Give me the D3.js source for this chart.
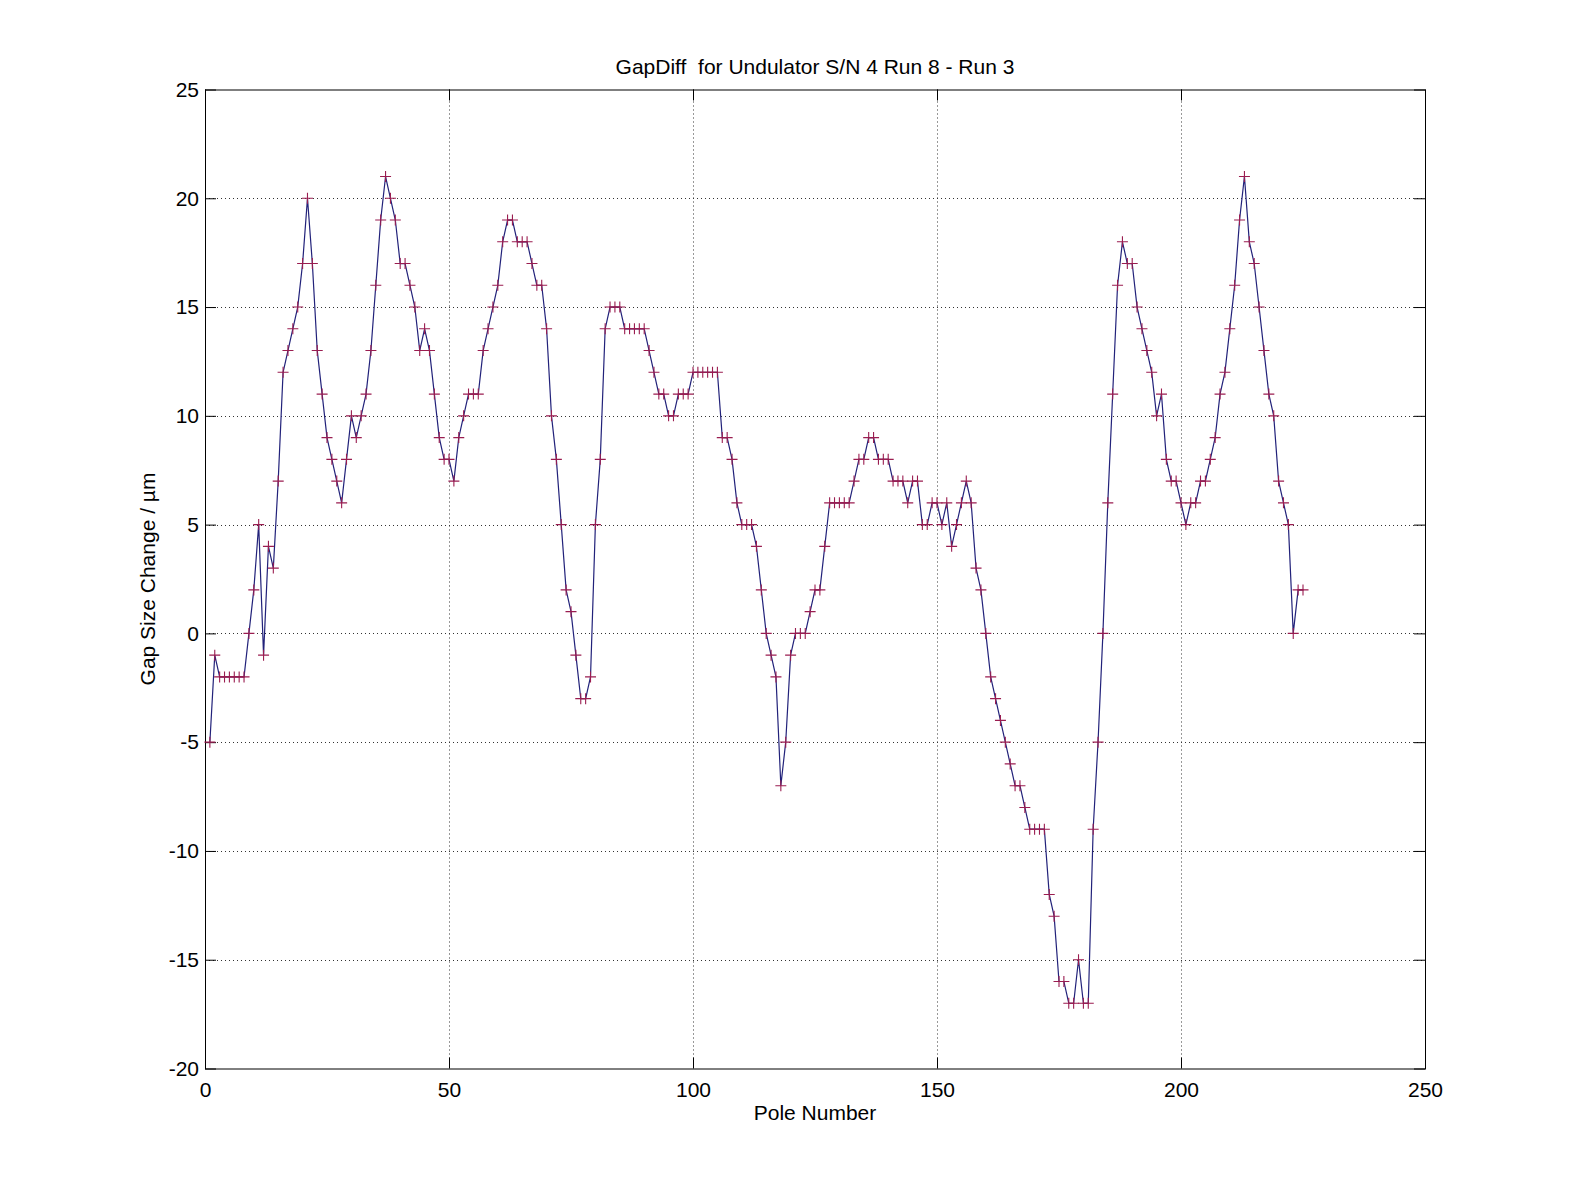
<!DOCTYPE html>
<html>
<head>
<meta charset="utf-8">
<script src="https://cdn.jsdelivr.net/npm/d3@7"></script>
<style>
  html, body { margin: 0; padding: 0; background: #fff; }
  svg { display: block; }
  text { font-family: "Liberation Sans", Arial, Helvetica, sans-serif; fill: #000; white-space: pre; }
</style>
</head>
<body>
<script>
// ---- Data ----
const title = "GapDiff  for Undulator S/N 4 Run 8 - Run 3";
const xLabel = "Pole Number";
const yLabel = "Gap Size Change / µm";
const xTicks = [0, 50, 100, 150, 200, 250];
const yTicks = [-20, -15, -10, -5, 0, 5, 10, 15, 20, 25];
const gapDiff = [
  -5, -1, -2, -2, -2, -2, -2, -2, 0, 2,
  5, -1, 4, 3, 7, 12, 13, 14, 15, 17,
  20, 17, 13, 11, 9, 8, 7, 6, 8, 10,
  9, 10, 11, 13, 16, 19, 21, 20, 19, 17,
  17, 16, 15, 13, 14, 13, 11, 9, 8, 8,
  7, 9, 10, 11, 11, 11, 13, 14, 15, 16,
  18, 19, 19, 18, 18, 18, 17, 16, 16, 14,
  10, 8, 5, 2, 1, -1, -3, -3, -2, 5,
  8, 14, 15, 15, 15, 14, 14, 14, 14, 14,
  13, 12, 11, 11, 10, 10, 11, 11, 11, 12,
  12, 12, 12, 12, 12, 9, 9, 8, 6, 5,
  5, 5, 4, 2, 0, -1, -2, -7, -5, -1,
  0, 0, 0, 1, 2, 2, 4, 6, 6, 6,
  6, 6, 7, 8, 8, 9, 9, 8, 8, 8,
  7, 7, 7, 6, 7, 7, 5, 5, 6, 6,
  5, 6, 4, 5, 6, 7, 6, 3, 2, 0,
  -2, -3, -4, -5, -6, -7, -7, -8, -9, -9,
  -9, -9, -12, -13, -16, -16, -17, -17, -15, -17,
  -17, -9, -5, 0, 6, 11, 16, 18, 17, 17,
  15, 14, 13, 12, 10, 11, 8, 7, 7, 6,
  5, 6, 6, 7, 7, 8, 9, 11, 12, 14,
  16, 19, 21, 18, 17, 15, 13, 11, 10, 7,
  6, 5, 0, 2, 2
];
const poles = gapDiff.map((d, i) => i + 1);

// ---- Layout ----
const W = 1575, H = 1200;
const L = 205, R = 1425, T = 89.5, B = 1068.5;
const tickLen = 11;

const svg = d3.select("body").append("svg").attr("width", W).attr("height", H);

const x = d3.scaleLinear().domain([0, 250]).range([L, R]);
const y = d3.scaleLinear().domain([-20, 25]).range([B, T]);

// Grid (dotted)
const grid = svg.append("g").attr("stroke", "#333").attr("stroke-width", 1)
  .attr("stroke-dasharray", "1,3");
xTicks.slice(1, -1).forEach(t => {
  grid.append("line").attr("x1", Math.round(x(t)) + 0.5).attr("x2", Math.round(x(t)) + 0.5)
    .attr("y1", T).attr("y2", B);
});
yTicks.slice(1, -1).forEach(t => {
  grid.append("line").attr("y1", Math.round(y(t)) + 0.5).attr("y2", Math.round(y(t)) + 0.5)
    .attr("x1", L).attr("x2", R);
});

// Axes via d3 axes (ticks inward), hyphen minus like the reference
const fmt = d => String(d);
const fs = 21;
const xAxisB = d3.axisBottom(x).tickValues(xTicks).tickFormat(fmt).tickSizeInner(-tickLen).tickSizeOuter(0).tickPadding(tickLen + 3);
const xAxisT = d3.axisTop(x).tickValues(xTicks).tickSizeInner(-tickLen).tickSizeOuter(0).tickFormat("");
const yAxisL = d3.axisLeft(y).tickValues(yTicks).tickFormat(fmt).tickSizeInner(-tickLen).tickSizeOuter(0).tickPadding(tickLen - 5);
const yAxisR = d3.axisRight(y).tickValues(yTicks).tickSizeInner(-tickLen).tickSizeOuter(0).tickFormat("");

function styleAxis(g) {
  g.select(".domain").remove();
  g.selectAll("line").attr("stroke", "#000").attr("stroke-width", 1);
  g.selectAll("text").attr("font-size", fs).attr("font-family", "Liberation Sans, Arial, sans-serif").attr("fill", "#000");
}
svg.append("g").attr("transform", `translate(0,${B})`).call(xAxisB).call(styleAxis);
svg.append("g").attr("transform", `translate(0,${T})`).call(xAxisT).call(styleAxis);
svg.append("g").attr("transform", `translate(${L},0)`).call(yAxisL).call(styleAxis);
svg.append("g").attr("transform", `translate(${R},0)`).call(yAxisR).call(styleAxis);

// Box
svg.append("rect").attr("x", L + 0.5).attr("y", T + 0.5).attr("width", R - L).attr("height", B - T)
  .attr("fill", "none").attr("stroke", "#000").attr("stroke-width", 1);

// Data line
const line = d3.line().x((d, i) => x(poles[i])).y(d => y(d));
svg.append("path").datum(gapDiff).attr("d", line)
  .attr("fill", "none").attr("stroke", "#22227a").attr("stroke-width", 1.2);

// Markers '+'
const m = 5.5;
svg.append("g").selectAll("path").data(gapDiff).join("path")
  .attr("d", (d, i) => {
    const cx = x(poles[i]), cy = y(d);
    return `M${cx - m},${cy}H${cx + m}M${cx},${cy - m}V${cy + m}`;
  })
  .attr("stroke", "#9a1d50").attr("stroke-width", 1.1).attr("fill", "none");

// Title and labels
svg.append("text").attr("x", (L + R) / 2).attr("y", 74).attr("text-anchor", "middle")
  .attr("font-size", fs).attr("xml:space", "preserve").text(title);
svg.append("text").attr("x", (L + R) / 2).attr("y", 1120).attr("text-anchor", "middle")
  .attr("font-size", fs).text(xLabel);
svg.append("text").attr("transform", `translate(155,${(T + B) / 2}) rotate(-90)`)
  .attr("text-anchor", "middle").attr("font-size", fs).text(yLabel);
</script>
</body>
</html>
